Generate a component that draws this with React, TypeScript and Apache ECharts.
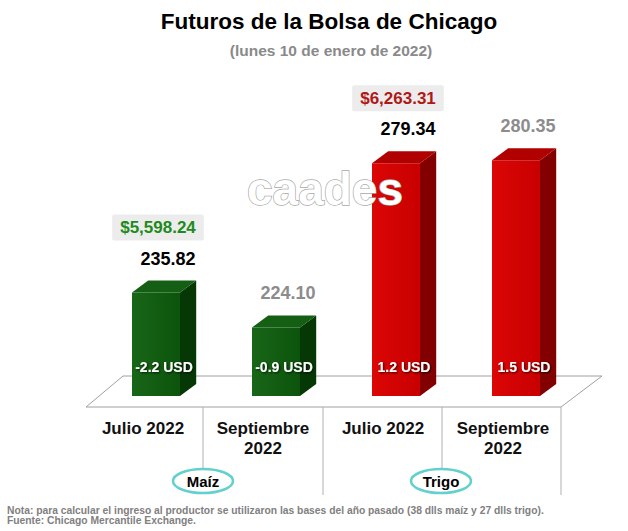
import React, { useEffect, useRef } from "react";
import * as echarts from "echarts";

const categories = ["Julio 2022", "Septiembre\n2022", "Julio 2022", "Septiembre\n2022"];
const crops = ["Maíz", "Maíz", "Trigo", "Trigo"];
const prices = [235.82, 224.1, 279.34, 280.35];
const changes = [-2.2, -0.9, 1.2, 1.5];
const incomes = ["$5,598.24", "", "$6,263.31", ""];
const groupLabels = ["Maíz", "Trigo"];
const title = "Futuros de la Bolsa de Chicago";
const subtitle = "(lunes 10 de enero de 2022)";
const notes = [
  "Nota: para calcular el ingreso al productor se utilizaron las bases del año pasado (38 dlls maíz y 27 dlls trigo).",
  "Fuente: Chicago Mercantile Exchange.",
];

const FONT = "'Liberation Sans', Arial, sans-serif";
const Y_MIN = 201;
const Y_MAX = 301;

const palette: Record<string, { front: [string, string]; side: string; top: string; income: string }> = {
  "Maíz": { front: ["#186618", "#0c540c"], side: "#063806", top: "#155f15", income: "#1e8a1e" },
  Trigo: { front: ["#dc0606", "#c80000"], side: "#820000", top: "#b00000", income: "#b01818" },
};

export default function App() {
  const ref = useRef<HTMLDivElement>(null);
  useEffect(() => {
    const chart = echarts.init(ref.current!, undefined, { renderer: "svg" });
    const data = prices.map((p, i) => [i, p]);
    const option: any = {
      animation: false,
      backgroundColor: "#ffffff",
      title: [
        {
          text: title,
          left: 324,
          textAlign: "center",
          top: 5,
          textStyle: { fontFamily: FONT, fontSize: 22.5, fontWeight: "bold", color: "#000" },
        },
        {
          text: subtitle,
          left: 326,
          textAlign: "center",
          top: 37,
          textStyle: { fontFamily: FONT, fontSize: 15.5, fontWeight: "bold", color: "#8a8a8a" },
        },
      ],
      grid: { left: 96, width: 480, top: 99, bottom: 135 },
      xAxis: {
        type: "category",
        data: categories,
        axisLine: { show: false },
        axisTick: { show: false },
        axisLabel: {
          interval: 0,
          margin: 22,
          fontFamily: FONT,
          fontSize: 17,
          fontWeight: "bold",
          color: "#111",
          lineHeight: 20,
          padding: [0, 26, 0, 0],
        },
      },
      yAxis: { type: "value", min: Y_MIN, max: Y_MAX, show: false },
      graphic: [
        {
          type: "polygon",
          z: 0,
          shape: { points: [[86, 407], [123, 376], [602, 376], [561, 407]] },
          style: { fill: "#ffffff", stroke: "#a0a0a0", lineWidth: 1 },
        },
        { type: "line", z: 0, shape: { x1: 203, y1: 407, x2: 203, y2: 468 }, style: { stroke: "#b0b0b0", lineWidth: 1 } },
        { type: "line", z: 0, shape: { x1: 323, y1: 407, x2: 323, y2: 495 }, style: { stroke: "#b0b0b0", lineWidth: 1 } },
        { type: "line", z: 0, shape: { x1: 442, y1: 407, x2: 442, y2: 468 }, style: { stroke: "#b0b0b0", lineWidth: 1 } },
        { type: "line", z: 0, shape: { x1: 561, y1: 407, x2: 561, y2: 495 }, style: { stroke: "#b0b0b0", lineWidth: 1 } },
        ...groupLabels.map((g, i) => ({
          type: "group",
          z: 5,
          x: i === 0 ? 203 : 441,
          y: 481,
          children: [
            { type: "ellipse", shape: { cx: 0, cy: 0, rx: 30, ry: 12 }, style: { fill: "#fff", stroke: "#62d0cc", lineWidth: 2.5 } },
            {
              type: "text",
              style: {
                text: g,
                x: 0,
                y: 0,
                align: "center",
                verticalAlign: "middle",
                fontFamily: FONT,
                fontSize: 15,
                fontWeight: "bold",
                fill: "#000",
              },
            },
          ],
        })),
        ...notes.map((n, i) => ({
          type: "text",
          z: 5,
          style: {
            text: n,
            x: 7,
            y: 510 + i * 10.5,
            verticalAlign: "middle",
            fontFamily: FONT,
            fontSize: 10.3,
            fontWeight: "bold",
            fill: "#808080",
          },
        })),
        {
          type: "text",
          z: 100,
          style: {
            text: "caades",
            x: 325,
            y: 189,
            align: "center",
            verticalAlign: "middle",
            fontFamily: FONT,
            fontSize: 46,
            fontWeight: "bold",
            fill: "#ffffff",
            stroke: "#a8a8a8",
            lineWidth: 1.4,
            shadowBlur: 3,
            shadowColor: "rgba(0,0,0,0.55)",
            shadowOffsetX: 2,
            shadowOffsetY: 3,
          },
        },
      ],
      series: [
        {
          type: "custom",
          z: 10,
          data,
          renderItem: (params: any, api: any) => {
            const idx = api.value(0);
            const v = api.value(1);
            const top = api.coord([idx, v]);
            const bot = api.coord([idx, Y_MIN]);
            const band = api.size([1, 0])[0];
            const w = band * 0.4;
            const dx = band * 0.135;
            const dy = 12;
            const x0 = top[0] - w / 2;
            const x1 = x0 + w;
            const yT = top[1];
            const yB = bot[1];
            const crop = crops[idx];
            const c = palette[crop];
            const isJulio = categories[idx].startsWith("Julio");
            const cx = top[0] + 8;
            const children: any[] = [
              {
                type: "polygon",
                shape: { points: [[x1, yT], [x1 + dx, yT - dy], [x1 + dx, yB - dy], [x1, yB]] },
                style: { fill: c.side },
              },
              {
                type: "polygon",
                shape: { points: [[x0, yT], [x0 + dx, yT - dy], [x1 + dx, yT - dy], [x1, yT]] },
                style: { fill: c.top },
              },
              {
                type: "rect",
                shape: { x: x0, y: yT, width: w, height: yB - yT },
                style: {
                  fill: new echarts.graphic.LinearGradient(0, 0, 1, 0, [
                    { offset: 0, color: c.front[0] },
                    { offset: 1, color: c.front[1] },
                  ]),
                },
              },
              {
                type: "text",
                style: {
                  text: changes[idx].toFixed(1) + " USD",
                  x: cx,
                  y: yB - 29,
                  align: "center",
                  verticalAlign: "middle",
                  fontFamily: FONT,
                  fontSize: 14,
                  fontWeight: "bold",
                  fill: "#fff",
                  textShadowColor: "rgba(0,0,0,0.75)",
                  textShadowBlur: 2,
                  textShadowOffsetX: 1,
                  textShadowOffsetY: 1,
                },
              },
              {
                type: "text",
                style: {
                  text: prices[idx].toFixed(2),
                  x: top[0] + 12,
                  y: yT - 34,
                  align: "center",
                  verticalAlign: "middle",
                  fontFamily: FONT,
                  fontSize: 18,
                  fontWeight: "bold",
                  fill: isJulio ? "#000" : "#8c8c8c",
                },
              },
            ];
            if (incomes[idx]) {
              children.push({
                type: "text",
                style: {
                  text: incomes[idx],
                  x: top[0] + 2,
                  y: yT - 65,
                  align: "center",
                  verticalAlign: "middle",
                  fontFamily: FONT,
                  fontSize: 17,
                  fontWeight: "bold",
                  fill: c.income,
                  backgroundColor: "#ececec",
                  padding: [5, 8, 4, 8],
                  borderRadius: 2,
                },
              });
            }
            return { type: "group", children };
          },
        },
      ],
    };
    chart.setOption(option);
    return () => chart.dispose();
  }, []);
  return (
    <div
      ref={ref}
      style={{ position: "absolute", left: 0, top: 0, width: 628, height: 531, background: "#fff" }}
    />
  );
}
